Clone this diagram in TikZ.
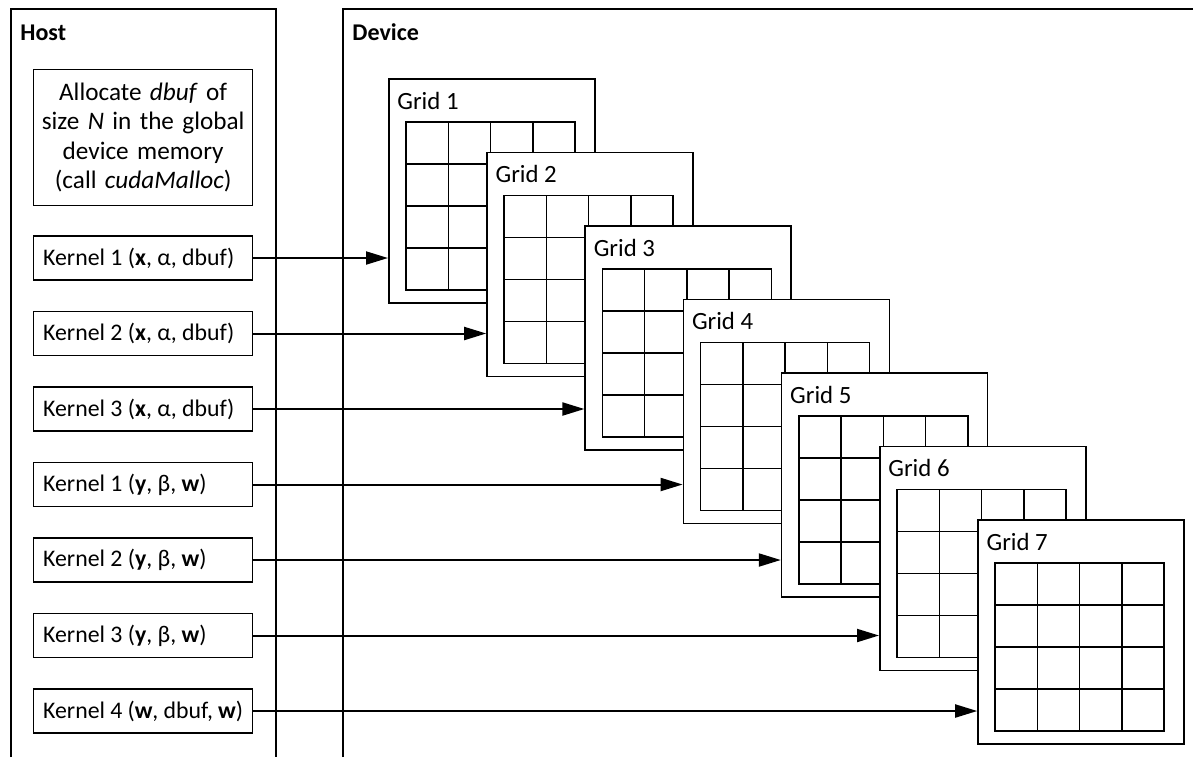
\documentclass[tikz,border=0pt]{standalone}
\usepackage{fontspec}
\setmainfont{Carlito}
\usepackage{tikz}
\usetikzlibrary{arrows.meta, positioning, calc}

\begin{document}
\begin{tikzpicture}[
        x=0.5pt, y=-0.5pt,
        >={Triangle[length=11pt, width=6.5pt]},
        % panels and boxes drawn thin, arrows a bit heavier
        panel/.style  ={line width=0.65pt},
        hostbox/.style={draw, line width=0.65pt, inner sep=0pt},
        kern/.style   ={hostbox, inner xsep=4.75pt, minimum height=22pt,
                        text width=100pt, align=flush left, font=\fontsize{11.9}{13}\selectfont},
        gridbox/.style={draw, fill=white, line width=0.75pt, inner sep=0pt,
                        minimum width=103pt, minimum height=112pt},
        cell/.style   ={line width=0.75pt},
        glabel/.style ={font=\fontsize{12.4}{14}\selectfont, inner sep=0pt},
        plabel/.style ={font=\fontsize{12}{14}\selectfont\bfseries, inner sep=0pt},
        call/.style   ={->, line width=1pt}
    ]
    \useasboundingbox (0,0) rectangle (1193,757);

    %% ===== Panels =====
    \draw[panel] (11,757) -- (11,9) -- (276,9) -- (276,757);
    \draw[panel] (343,757) -- (343,9) -- (1193,9);
    \node[plabel, anchor=base west] (hostlbl) at (20,40) {Host};
    \node[plabel, anchor=base west] (devlbl) at (352,40) {Device};

    %% ===== Host side =====
    \node[hostbox, anchor=north west, minimum width=109.5pt, minimum height=68pt,
          text width=105pt, align=center, font=\fontsize{12.6}{14.7}\selectfont]
        (alloc) at (33,69)
        {Allocate \textit{dbuf} of\\ size \textit{N} in the global\\ device memory\\ (call \textit{cudaMalloc})};

    \node[kern, anchor=west] (k1) at (33,258)   {Kernel 1 (\textbf{x}, α, dbuf)};
    \node[kern, anchor=west] (k2) at (33,333.5) {Kernel 2 (\textbf{x}, α, dbuf)};
    \node[kern, anchor=west] (k3) at (33,409)   {Kernel 3 (\textbf{x}, α, dbuf)};
    \node[kern, anchor=west] (k4) at (33,484.5) {Kernel 1 (\textbf{y}, β, \textbf{w})};
    \node[kern, anchor=west] (k5) at (33,560)   {Kernel 2 (\textbf{y}, β, \textbf{w})};
    \node[kern, anchor=west] (k6) at (33,635.5) {Kernel 3 (\textbf{y}, β, \textbf{w})};
    \node[kern, anchor=west] (k7) at (33,711)   {Kernel 4 (\textbf{w}, dbuf, \textbf{w})};

    %% ===== Device side: stacked grids =====
    \foreach \i in {1,...,7} {
        \pgfmathsetmacro{\gx}{388+98.2*(\i-1)}
        \pgfmathsetmacro{\gy}{78+73.5*(\i-1)}
        \begin{scope}[shift={(\gx,\gy)}]
            \node[gridbox, anchor=north west] (g\i) at (0,0) {};
            \node[glabel, anchor=base west] (gl\i) at (9,31) {Grid \i};
            \draw[cell] (18,44) rectangle (187,212);
            \foreach \c in {1,2,3} {
                \draw[cell] (18+42.25*\c,44) -- (18+42.25*\c,212);
                \draw[cell] (18,44+42*\c) -- (187,44+42*\c);
            }
        \end{scope}
    }

    %% ===== Kernel launches =====
    \foreach \i in {1,...,7} {
        \draw[call] (k\i.east) -- (k\i.east -| g\i.west);
    }
\end{tikzpicture}
\end{document}
